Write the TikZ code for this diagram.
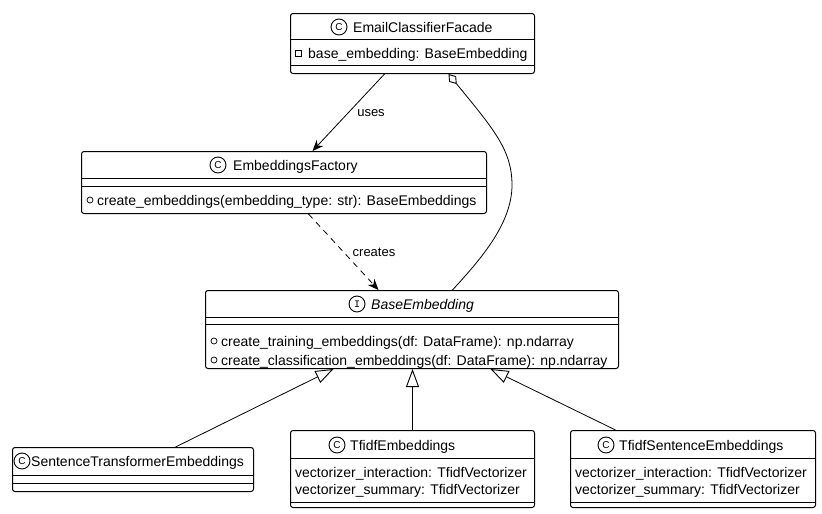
\documentclass[tikz,border=0pt]{standalone}
\usepackage{fontspec}
\setmainfont{Liberation Sans}
\newfontfamily\iconfont{Liberation Sans}
\newfontfamily\ifacefont{Liberation Mono}
\usetikzlibrary{arrows.meta}

\tikzset{
  umlbox/.style={draw, line width=1pt, rounded corners=2.5pt, fill=white, inner sep=0pt, anchor=north west},
  sep/.style={line width=1pt},
  txt/.style={inner sep=0pt, anchor=base west, font=\fontsize{14}{16}\selectfont},
  lbl/.style={inner sep=0pt, font=\fontsize{13}{15}\selectfont},
  kind/.style={draw, circle, line width=0.9pt, minimum size=16pt, inner sep=0pt, font=\iconfont\fontsize{10}{10}\selectfont},
  privmark/.style={draw, line width=0.7pt, minimum size=6pt, inner sep=0pt},
  pubmark/.style={draw, circle, line width=0.7pt, minimum size=6pt, inner sep=0pt},
  conn/.style={line width=0.8pt},
  usesarrow/.style={conn, -{Stealth[length=11pt, width=9pt, inset=3.5pt]}},
  createsarrow/.style={conn, dash pattern=on 6pt off 5pt, -{Stealth[length=11pt, width=9pt, inset=3.5pt]}},
  aggregation/.style={conn, {Diamond[open, length=13pt, width=9pt, line width=0.9pt]}-},
  extends/.style={conn, -{Triangle[open, length=18pt, width=13pt, line width=0.9pt]}}
}

\begin{document}
\begin{tikzpicture}[x=1pt, y=-1pt]
\useasboundingbox (0,0) rectangle (822,514);

% ---- EmailClassifierFacade ----
\node[umlbox, minimum width=244pt, minimum height=60pt] (facade) at (290,13) {};
\draw[sep] (facade.west |- 0,39) -- (facade.east |- 0,39);
\draw[sep] (facade.west |- 0,65) -- (facade.east |- 0,65);
\node[kind] (facadekind) at (339,27) {C};
\node[txt] (facadename) at (353,27+5) {EmailClassifierFacade};
\node[privmark] (facadevis) at (298,53) {};
\node[txt] (facadeattr) at (308,53+5) {base\_embedding: BaseEmbedding};

% ---- EmbeddingsFactory ----
\node[umlbox, minimum width=405pt, minimum height=62pt] (factory) at (81,151) {};
\draw[sep] (factory.west |- 0,178) -- (factory.east |- 0,178);
\draw[sep] (factory.west |- 0,186) -- (factory.east |- 0,186);
\node[kind] (factorykind) at (218,165) {C};
\node[txt] (factoryname) at (233,165+5) {EmbeddingsFactory};
\node[pubmark] (factoryvis) at (90,200) {};
\node[txt] (factoryop) at (97,200+5) {create\_embeddings(embedding\_type: str): BaseEmbeddings};

% ---- BaseEmbedding (interface) ----
\node[umlbox, minimum width=413pt, minimum height=78pt] (base) at (205,290) {};
\draw[sep] (base.west |- 0,317) -- (base.east |- 0,317);
\draw[sep] (base.west |- 0,324) -- (base.east |- 0,324);
\node[kind, font=\ifacefont\fontsize{10}{10}\selectfont] (basekind) at (357,304) {I};
\node[txt, font=\fontsize{14}{16}\selectfont\itshape] (basename) at (371,304+5) {BaseEmbedding};
\node[pubmark] (basevis1) at (214,341) {};
\node[txt] (baseop1) at (221,341+5) {create\_training\_embeddings(df: DataFrame): np.ndarray};
\node[pubmark] (basevis2) at (214,360) {};
\node[txt] (baseop2) at (221,360+5) {create\_classification\_embeddings(df: DataFrame): np.ndarray};

% ---- SentenceTransformerEmbeddings ----
\node[umlbox, minimum width=241pt, minimum height=44pt] (ste) at (12,447) {};
\draw[sep] (ste.west |- 0,475) -- (ste.east |- 0,475);
\draw[sep] (ste.west |- 0,483) -- (ste.east |- 0,483);
\node[kind] (stekind) at (22,461) {C};
\node[txt] (stename) at (31,461+5) {SentenceTransformerEmbeddings};

% ---- TfidfEmbeddings ----
\node[umlbox, minimum width=244pt, minimum height=77pt] (tfidf) at (290,430) {};
\draw[sep] (tfidf.west |- 0,458) -- (tfidf.east |- 0,458);
\draw[sep] (tfidf.west |- 0,502) -- (tfidf.east |- 0,502);
\node[kind] (tfidfkind) at (337,445) {C};
\node[txt] (tfidfname) at (350,445+5) {TfidfEmbeddings};
\node[txt] (tfidfattr1) at (295,472+5) {vectorizer\_interaction: TfidfVectorizer};
\node[txt] (tfidfattr2) at (295,489+5) {vectorizer\_summary: TfidfVectorizer};

% ---- TfidfSentenceEmbeddings ----
\node[umlbox, minimum width=245pt, minimum height=77pt] (tfsent) at (570,430) {};
\draw[sep] (tfsent.west |- 0,458) -- (tfsent.east |- 0,458);
\draw[sep] (tfsent.west |- 0,502) -- (tfsent.east |- 0,502);
\node[kind] (tfsentkind) at (606,445) {C};
\node[txt] (tfsentname) at (619,445+5) {TfidfSentenceEmbeddings};
\node[txt] (tfsentattr1) at (575,472+5) {vectorizer\_interaction: TfidfVectorizer};
\node[txt] (tfsentattr2) at (575,489+5) {vectorizer\_summary: TfidfVectorizer};

% ---- Relations ----
% facade uses factory
\draw[usesarrow] ([xshift=-28pt]facade.south) -- ([xshift=28.5pt]factory.north);
\node[lbl] (useslbl) at (371,113) {uses};

% factory creates base embeddings
\draw[createsarrow] ([xshift=24.5pt]factory.south) -- ([xshift=-33.5pt]base.north);
\node[lbl] (createslbl) at (374,252) {creates};

% facade aggregates a BaseEmbedding
\draw[aggregation] ([xshift=36pt]facade.south)
  .. controls +(45,55) and (512,150) .. (512,185)
  .. controls (512,225) and (478,262) .. ([xshift=40.5pt]base.north);

% implementations
\draw[extends] ([xshift=42.5pt]ste.north) -- ([xshift=-78.5pt]base.south);
\draw[extends] (tfidf.north) -- (tfidf.north |- base.south);
\draw[extends] ([xshift=-77.5pt]tfsent.north) -- ([xshift=78.5pt]base.south);
\end{tikzpicture}
\end{document}
